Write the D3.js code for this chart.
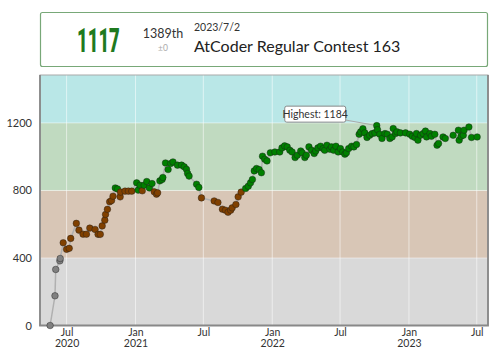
<!DOCTYPE html>
<html>
<meta charset="utf-8">
<style>
  body { margin: 0; background: #fff; }
  text { font-family: Lato, "Open Sans", sans-serif; fill: #333; }
  .big { font-family: Roboto, "DejaVu Sans", sans-serif; font-weight: 900; }
</style>
<script src="https://d3js.org/d3.v7.min.js"></script>
<body>
<script>
// contest dates and rating after each contest
var dates = [
  "2020-05-18","2020-05-31","2020-06-02","2020-06-13","2020-06-14","2020-06-22","2020-07-01","2020-07-08",
  "2020-07-12","2020-07-27","2020-08-03","2020-08-14","2020-08-23","2020-09-01","2020-09-15","2020-09-23",
  "2020-09-29","2020-10-04","2020-10-11","2020-10-13","2020-10-18","2020-10-24","2020-10-29","2020-11-02",
  "2020-11-08","2020-11-14","2020-11-21","2020-11-22","2020-12-04","2020-12-13","2020-12-22","2021-01-04",
  "2021-01-08","2021-01-13","2021-01-19","2021-01-24","2021-01-31","2021-02-07","2021-02-14","2021-02-20",
  "2021-02-26","2021-03-01","2021-03-07","2021-03-13","2021-03-15","2021-03-22","2021-03-29","2021-04-05",
  "2021-04-11","2021-04-23","2021-05-04","2021-05-11","2021-05-17","2021-05-20","2021-05-24","2021-06-13",
  "2021-06-19","2021-06-26","2021-07-30","2021-08-09","2021-08-21","2021-08-29","2021-09-05","2021-09-12",
  "2021-09-16","2021-09-26","2021-10-02","2021-10-10","2021-10-22","2021-10-29","2021-11-04","2021-11-09",
  "2021-11-14","2021-11-20","2021-11-27","2021-12-03","2021-12-06","2021-12-12","2021-12-18","2021-12-27",
  "2022-01-08","2022-01-21","2022-01-27","2022-02-03","2022-02-10","2022-02-17","2022-02-23","2022-03-03",
  "2022-03-09","2022-03-18","2022-03-22","2022-03-29","2022-04-02","2022-04-09","2022-04-16","2022-04-23",
  "2022-04-27","2022-05-03","2022-05-10","2022-05-17","2022-05-21","2022-05-27","2022-06-04","2022-06-08",
  "2022-06-14","2022-06-20","2022-06-26","2022-07-02","2022-07-08","2022-07-14","2022-07-18","2022-07-24",
  "2022-08-01","2022-08-07","2022-08-14","2022-08-21","2022-08-25","2022-08-31","2022-09-05","2022-09-11",
  "2022-09-18","2022-09-25","2022-10-02","2022-10-07","2022-10-09","2022-10-15","2022-10-21","2022-10-29",
  "2022-11-04","2022-11-11","2022-11-17","2022-11-20","2022-11-26","2022-11-30","2022-12-09","2022-12-23",
  "2023-01-03","2023-01-10","2023-01-17","2023-01-21","2023-01-25","2023-02-01","2023-02-08","2023-02-14",
  "2023-02-17","2023-02-26","2023-03-02","2023-03-11","2023-03-17","2023-03-21","2023-04-02","2023-04-08",
  "2023-04-29","2023-05-13","2023-05-15","2023-05-20","2023-05-26","2023-05-28","2023-06-10","2023-06-17",
  "2023-07-02"
];
var ratings = [
  0,176,332,383,397,490,451,457,
  516,605,565,541,541,577,569,540,
  540,590,624,658,688,733,740,766,
  815,809,762,790,796,796,796,845,
  802,831,798,831,853,815,841,792,
  778,786,857,865,877,963,924,960,
  969,950,950,940,925,901,885,837,
  818,756,738,729,689,683,671,683,
  697,717,762,790,812,825,845,865,
  916,930,924,905,1003,985,975,1023,
  1028,1028,1052,1064,1058,1038,1028,995,
  1009,1034,1023,995,1009,1058,1038,1019,
  1034,1052,1062,1048,1038,1068,1044,1058,
  1038,1062,1028,1048,1028,1015,1023,1048,
  1062,1058,1072,1133,1147,1166,1141,1114,
  1127,1137,1141,1184,1160,1133,1108,1137,
  1133,1108,1117,1167,1137,1147,1141,1141,
  1133,1121,1114,1137,1098,1127,1137,1152,
  1117,1137,1121,1133,1068,1078,1117,1108,
  1127,1157,1098,1121,1127,1157,1176,1114,
  1117
];

var bandStarts = [0, 400, 800, 1200];
var bandFill = ["#d9d9d9", "#d8c6b6", "#c0dac0", "#b9e7e7"];
var dotFill = ["#808080", "#804000", "#008000", "#00c0c0"];
var yTicks = [0, 400, 800, 1200];

var contestName = "AtCoder Regular Contest 163";
var contestDate = "2023/7/2";
var lastRank = "1389th";
var lastDiff = "±0";

var W = 500, H = 352;
var pLeft = 40, pRight = 488, pTop = 75, pBottom = 325.5;

var svg = d3.select("body").append("svg").attr("width", W).attr("height", H);

var parse = d3.timeParse("%Y-%m-%d");
var data = dates.map(function(d, i) { return { date: parse(d), rating: ratings[i] }; });

var x = d3.scaleTime()
  .domain([new Date(2020, 3, 21), new Date(2023, 6, 31)])
  .range([pLeft, pRight]);
var y = d3.scaleLinear().domain([0, 1484]).range([pBottom, pTop]);

function band(r) {
  var k = 0;
  bandStarts.forEach(function(s, i) { if (r >= s) k = i; });
  return k;
}

// header card
var card = svg.append("g");
card.append("rect")
  .attr("x", 40.5).attr("y", 12.5).attr("width", 447).attr("height", 54)
  .attr("rx", 2).attr("fill", "#fff")
  .attr("stroke", "#78a878").attr("stroke-width", 1.2);
card.append("text").attr("class", "big")
  .attr("transform", "translate(77,51.5) scale(0.56,1)")
  .style("font-size", "33px").style("fill", "#1f7a1f")
  .text(ratings[ratings.length - 1]);
card.append("text").attr("x", 163).attr("y", 37.5)
  .attr("text-anchor", "middle").style("font-size", "12.5px")
  .text(lastRank);
card.append("text").attr("x", 163).attr("y", 51)
  .attr("text-anchor", "middle").style("font-size", "8.5px").style("fill", "#aaa")
  .text(lastDiff);
card.append("text").attr("x", 194).attr("y", 30.5)
  .style("font-size", "10.5px").text(contestDate);
card.append("text").attr("x", 194).attr("y", 51.5)
  .style("font-size", "16px").style("fill", "#222").text(contestName);

// rating colour bands
var yMax = y.domain()[1];
svg.selectAll(".band")
  .data(bandStarts)
  .enter().append("rect")
  .attr("class", "band")
  .attr("x", pLeft).attr("width", pRight - pLeft)
  .attr("y", function(d, i) { return y(i < bandStarts.length - 1 ? bandStarts[i + 1] : yMax); })
  .attr("height", function(d, i) {
    var hi = i < bandStarts.length - 1 ? bandStarts[i + 1] : yMax;
    return y(d) - y(hi);
  })
  .attr("fill", function(d, i) { return bandFill[i]; });

// grid
var xTicks = x.ticks(d3.timeMonth.every(6));
svg.selectAll(".vgrid")
  .data(xTicks)
  .enter().append("line")
  .attr("x1", function(d) { return x(d); }).attr("x2", function(d) { return x(d); })
  .attr("y1", pTop).attr("y2", pBottom)
  .attr("stroke", "#fff").attr("stroke-opacity", 0.55).attr("stroke-width", 1);
svg.selectAll(".hgrid")
  .data(yTicks.slice(1))
  .enter().append("line")
  .attr("x1", pLeft).attr("x2", pRight)
  .attr("y1", function(d) { return y(d); }).attr("y2", function(d) { return y(d); })
  .attr("stroke", "#fff").attr("stroke-opacity", 0.45).attr("stroke-width", 1);

// frame
svg.append("rect")
  .attr("x", pLeft).attr("y", pTop).attr("width", pRight - pLeft).attr("height", pBottom - pTop)
  .attr("fill", "none").attr("stroke", "#aaa").attr("stroke-width", 1);
svg.append("path")
  .attr("d", "M" + pLeft + "," + pTop + "V" + pBottom + "H" + pRight + "V" + pTop)
  .attr("fill", "none").attr("stroke", "#888").attr("stroke-width", 1.8);

// axes
var yAxis = svg.append("g")
  .attr("transform", "translate(" + pLeft + ",0)")
  .call(d3.axisLeft(y).tickValues(yTicks).tickFormat(d3.format("d")).tickSize(0).tickPadding(8));
yAxis.select(".domain").remove();
yAxis.selectAll("text").style("font-size", "11px").style("fill", "#333")
  .style("font-family", "Lato, sans-serif");

var xAxis = svg.append("g")
  .attr("transform", "translate(0," + pBottom + ")")
  .call(d3.axisBottom(x).tickValues(xTicks).tickSize(0).tickFormat(""));
xAxis.select(".domain").remove();
xAxis.selectAll(".tick").each(function(d, i) {
  var g = d3.select(this);
  g.append("text").attr("text-anchor", "middle").attr("y", 10.5)
    .style("font-size", "10.5px").style("fill", "#333")
    .style("font-family", "Lato, sans-serif")
    .text(d3.timeFormat("%b")(d));
  if (i === 0 || d.getMonth() === 0) {
    g.append("text").attr("text-anchor", "middle").attr("y", 21)
      .style("font-size", "10.5px").style("fill", "#333")
      .style("font-family", "Lato, sans-serif")
      .text(d3.timeFormat("%Y")(d));
  }
});

// rating line
var line = d3.line()
  .x(function(d) { return x(d.date); })
  .y(function(d) { return y(d.rating); });
svg.append("path")
  .datum(data)
  .attr("d", line)
  .attr("fill", "none")
  .attr("stroke", "#b0b0b0")
  .attr("stroke-width", 1.5);

// highest label
var best = data.reduce(function(a, b) { return b.rating > a.rating ? b : a; });
var bx = x(best.date), by = y(best.rating);
var label = svg.append("g");
label.append("line")
  .attr("x1", bx).attr("y1", by).attr("x2", bx - 50).attr("y2", by - 9)
  .attr("stroke", "#aaa").attr("stroke-width", 1);

// points
svg.selectAll(".dot")
  .data(data)
  .enter().append("circle")
  .attr("class", "dot")
  .attr("cx", function(d) { return x(d.date); })
  .attr("cy", function(d) { return y(d.rating); })
  .attr("r", 3.3)
  .attr("fill", function(d) { return dotFill[band(d.rating)]; })
  .attr("stroke", "#1a1a1a")
  .attr("stroke-opacity", 0.6)
  .attr("stroke-width", 0.7);

label.append("rect")
  .attr("x", bx - 92).attr("y", by - 19.5).attr("width", 61).attr("height", 16)
  .attr("rx", 2).attr("fill", "#fff").attr("stroke", "#888").attr("stroke-width", 1);
label.append("text")
  .attr("x", bx - 61.5).attr("y", by - 7.8)
  .attr("text-anchor", "middle").style("font-size", "10.5px").style("fill", "#333")
  .text("Highest: " + best.rating);
</script>
</body>
</html>
